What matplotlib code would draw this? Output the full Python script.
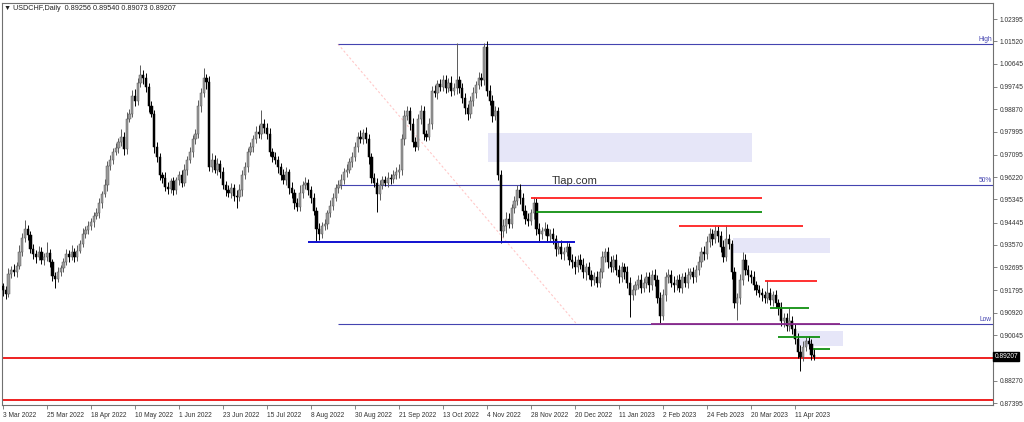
import matplotlib
matplotlib.use("Agg")
import matplotlib.pyplot as plt
from matplotlib.patches import Rectangle

plt.rcParams["font.family"] = ["Liberation Sans", "DejaVu Sans"]

# ------------------------------------------------------------
# data (USDCHF daily, 3 Mar 2022 - 21 Apr 2023)
# ------------------------------------------------------------
first_open = 0.9195
closes = [
    0.9180, 0.9165, 0.9245, 0.9260, 0.9250, 0.9275, 0.9330, 0.9385, 0.9420, 0.9395, 0.9340, 0.9320, 0.9310, 0.9330, 0.9300, 0.9310,
    0.9325, 0.9290, 0.9235, 0.9225, 0.9250, 0.9265, 0.9290, 0.9320, 0.9310, 0.9330, 0.9310, 0.9335, 0.9360, 0.9400, 0.9415, 0.9430,
    0.9445, 0.9470, 0.9480, 0.9520, 0.9555, 0.9590, 0.9665, 0.9690, 0.9720, 0.9735, 0.9760, 0.9780, 0.9730, 0.9850, 0.9870, 0.9940,
    0.9920, 0.9990, 1.0020, 1.0010, 0.9975, 0.9900, 0.9870, 0.9740, 0.9700, 0.9630, 0.9620, 0.9585, 0.9575, 0.9605, 0.9570, 0.9610,
    0.9630, 0.9600, 0.9650, 0.9690, 0.9720, 0.9770, 0.9790, 0.9900, 0.9950, 1.0010, 0.9995, 0.9660, 0.9690, 0.9650, 0.9675, 0.9640,
    0.9590, 0.9570, 0.9560, 0.9580, 0.9550, 0.9545, 0.9570, 0.9630, 0.9660, 0.9720, 0.9740, 0.9770, 0.9800, 0.9790, 0.9830, 0.9815,
    0.9790, 0.9720, 0.9700, 0.9690, 0.9660, 0.9630, 0.9610, 0.9640, 0.9580, 0.9560, 0.9520, 0.9505, 0.9560, 0.9590, 0.9600, 0.9570,
    0.9540, 0.9490, 0.9420, 0.9400, 0.9430, 0.9440, 0.9480, 0.9510, 0.9540, 0.9580, 0.9590, 0.9610, 0.9640, 0.9650, 0.9680, 0.9700,
    0.9740, 0.9780, 0.9770, 0.9795, 0.9770, 0.9700, 0.9620, 0.9600, 0.9555, 0.9590, 0.9610, 0.9600, 0.9620, 0.9615, 0.9630, 0.9640,
    0.9650, 0.9770, 0.9860, 0.9880, 0.9830, 0.9760, 0.9740, 0.9850, 0.9880, 0.9790, 0.9780, 0.9830, 0.9960, 0.9950, 0.9985, 0.9975,
    1.0000, 0.9970, 0.9990, 0.9960, 0.9970, 1.0000, 0.9970, 0.9930, 0.9890, 0.9870, 0.9920, 0.9950, 0.9980, 1.0010, 1.0000, 1.0130,
    0.9960, 0.9920, 0.9860, 0.9880, 0.9630, 0.9410, 0.9430, 0.9460, 0.9440, 0.9500, 0.9530, 0.9570, 0.9540, 0.9490, 0.9460, 0.9450,
    0.9480, 0.9520, 0.9420, 0.9400, 0.9410, 0.9420, 0.9390, 0.9400, 0.9380, 0.9340, 0.9350, 0.9320, 0.9330, 0.9350, 0.9300, 0.9290,
    0.9270, 0.9300, 0.9280, 0.9250, 0.9270, 0.9240, 0.9220, 0.9230, 0.9210, 0.9250, 0.9310, 0.9330, 0.9290, 0.9270, 0.9300, 0.9260,
    0.9230, 0.9270, 0.9250, 0.9210, 0.9160, 0.9180, 0.9200, 0.9220, 0.9190, 0.9210, 0.9230, 0.9200, 0.9240, 0.9220, 0.9150, 0.9080,
    0.9160, 0.9230, 0.9240, 0.9210, 0.9200, 0.9220, 0.9190, 0.9230, 0.9210, 0.9240, 0.9250, 0.9230, 0.9260, 0.9290, 0.9330, 0.9320,
    0.9370, 0.9400, 0.9380, 0.9410, 0.9390, 0.9350, 0.9310, 0.9380, 0.9360, 0.9250, 0.9130, 0.9150, 0.9220, 0.9300, 0.9260, 0.9240,
    0.9230, 0.9200, 0.9180, 0.9170, 0.9160, 0.9150, 0.9170, 0.9140, 0.9160, 0.9130, 0.9110, 0.9060, 0.9070, 0.9040, 0.9060, 0.9030,
    0.8990, 0.8940, 0.8920, 0.8960, 0.8980, 0.8970, 0.89256, 0.89207,
]
# wick length above / below the body, in pips
wick_up = [
    12, 18, 20, 15, 22, 14, 25, 20, 34, 15, 18, 20, 16, 22, 18, 14,
    45, 15, 12, 18, 20, 14, 16, 22, 18, 25, 15, 20, 18, 22, 14, 20,
    18, 15, 22, 20, 14, 25, 18, 20, 15, 22, 16, 28, 20, 25, 18, 22,
    25, 20, 40, 22, 18, 15, 20, 14, 18, 16, 12, 20, 18, 14, 16, 12,
    14, 18, 22, 16, 20, 15, 18, 22, 20, 38, 15, 20, 25, 18, 22, 14,
    20, 15, 22, 18, 16, 20, 25, 18, 22, 15, 20, 18, 22, 25, 54, 20,
    18, 22, 15, 20, 16, 18, 25, 20, 14, 22, 16, 20, 30, 18, 22, 16,
    16, 20, 14, 22, 18, 20, 15, 22, 18, 16, 20, 25, 18, 22, 16, 20,
    20, 18, 25, 16, 22, 20, 15, 18, 20, 22, 16, 18, 20, 15, 18, 22,
    22, 20, 25, 18, 16, 22, 20, 18, 25, 20, 16, 22, 18, 20, 16, 22,
    20, 22, 18, 25, 20, 146, 18, 20, 22, 16, 20, 25, 18, 22, 20, 16,
    25, 20, 22, 18, 15, 20, 30, 25, 22, 18, 20, 20, 25, 18, 22, 20,
    18, 25, 20, 22, 18, 25, 20, 18, 22, 16, 20, 25, 18, 22, 16, 20,
    22, 18, 20, 25, 16, 22, 18, 20, 25, 18, 22, 16, 20, 25, 18, 22,
    20, 22, 18, 25, 20, 22, 18, 20, 25, 18, 22, 20, 18, 22, 20, 25,
    25, 20, 22, 18, 25, 20, 22, 18, 20, 25, 18, 22, 20, 25, 18, 22,
    20, 25, 18, 25, 22, 20, 25, 55, 20, 18, 22, 20, 25, 30, 22, 18,
    20, 25, 18, 22, 20, 18, 50, 20, 18, 22, 16, 25, 20, 22, 50, 18,
    18, 22, 25, 20, 17, 22, 20, 28.4,
]
wick_dn = [
    22, 20, 10, 18, 15, 20, 12, 18, 15, 20, 14, 18, 22, 12, 16, 20,
    15, 20, 18, 35, 12, 16, 14, 10, 18, 12, 20, 14, 10, 12, 16, 14,
    14, 18, 12, 16, 20, 10, 22, 14, 18, 12, 20, 15, 22, 16, 14, 12,
    20, 18, 15, 25, 20, 22, 14, 25, 18, 20, 22, 16, 20, 15, 18, 14,
    18, 16, 14, 20, 12, 18, 20, 15, 22, 14, 30, 16, 20, 14, 18, 22,
    16, 20, 14, 18, 22, 45, 15, 20, 14, 18, 12, 20, 16, 14, 18, 22,
    20, 14, 18, 16, 22, 18, 14, 20, 25, 18, 22, 15, 14, 20, 16, 18,
    20, 18, 50, 22, 16, 14, 20, 15, 18, 12, 20, 14, 16, 18, 14, 20,
    15, 20, 14, 18, 16, 25, 20, 18, 70, 22, 16, 14, 18, 20, 16, 14,
    20, 18, 22, 16, 25, 20, 18, 14, 20, 25, 18, 14, 20, 16, 22, 18,
    18, 20, 16, 22, 18, 25, 20, 18, 22, 25, 16, 20, 18, 14, 22, 20,
    20, 18, 22, 16, 20, 45, 22, 25, 18, 16, 20, 18, 22, 16, 20, 18,
    16, 20, 25, 30, 18, 16, 22, 20, 18, 25, 20, 18, 22, 16, 20, 25,
    25, 20, 18, 22, 30, 16, 25, 20, 18, 16, 22, 20, 25, 18, 20, 22,
    22, 18, 25, 20, 84, 18, 20, 16, 22, 18, 20, 25, 18, 22, 20, 28,
    18, 22, 20, 16, 25, 20, 18, 22, 16, 20, 18, 22, 16, 20, 18, 22,
    18, 20, 22, 16, 20, 22, 18, 16, 20, 25, 20, 66, 22, 18, 20, 25,
    22, 18, 20, 16, 22, 18, 20, 16, 20, 18, 25, 20, 22, 18, 20, 22,
    20, 25, 54, 18, 16, 20, 18, 13.4,
]

date_labels = ["3 Mar 2022", "25 Mar 2022", "18 Apr 2022", "10 May 2022", "1 Jun 2022",
               "23 Jun 2022", "15 Jul 2022", "8 Aug 2022", "30 Aug 2022", "21 Sep 2022",
               "13 Oct 2022", "4 Nov 2022", "28 Nov 2022", "20 Dec 2022", "11 Jan 2023",
               "2 Feb 2023", "24 Feb 2023", "20 Mar 2023", "11 Apr 2023"]
date_step = 16

price_ticks = [1.02395, 1.01520, 1.00645, 0.99745, 0.98870, 0.97995, 0.97095, 0.96220,
               0.95345, 0.94445, 0.93570, 0.92695, 0.91795, 0.90920, 0.90045, 0.88270, 0.87395]
last_price = 0.89207

# fib levels (High / 50% / Low), start bar
fib_levels = [1.01418, 0.95915, 0.90480]
fib_names = ["High", "50%", "Low"]
fib_start = 121.8

# drawn lines: (price, start bar, end bar, colour, width)
seg_lines = [
    (0.93690, 110.9, 208.0, "#1010d0", 1.4),
    (0.95400, 192.0, 276.0, "#ff2020", 1.3),
    (0.94850, 194.0, 276.0, "#109010", 1.3),
    (0.94320, 245.8, 291.0, "#ff2020", 1.3),
    (0.92170, 277.0, 296.0, "#ff2020", 1.3),
    (0.91090, 279.0, 293.0, "#109010", 1.3),
    (0.90480, 235.6, 304.4, "#8a2a8a", 1.3),
    (0.89990, 281.8, 297.0, "#109010", 1.3),
    (0.89500, 294.5, 300.7, "#109010", 1.3),
]
full_lines = [0.89150, 0.87510]

# zones: (start bar, end bar, low price, high price)
zones = [
    (176.4, 272.4, 0.96809, 0.97942),
    (265.5, 300.7, 0.93254, 0.93840),
    (288.7, 305.5, 0.89621, 0.90207),
]

# ------------------------------------------------------------
fig = plt.figure(figsize=(10.24, 4.22), dpi=100)
ax = fig.add_axes([2 / 1024, 17 / 422, 991 / 1024, 402 / 422])
xmin, xmax = -0.36, 360.0
ymin, ymax = 0.87317, 1.03020
ax.set_xlim(xmin, xmax)
ax.set_ylim(ymin, ymax)

for z in zones:
    ax.add_patch(Rectangle((z[0], z[2]), z[1] - z[0], z[3] - z[2],
                           facecolor="#e6e6f8", edgecolor="none", zorder=1))

# fib lines + dotted diagonal
for lvl, name in zip(fib_levels, fib_names):
    ax.hlines(lvl, fib_start, xmax, color="#4444b0", lw=0.8, zorder=2)
    ax.text(xmax - 0.4, lvl + 0.0004, name, color="#4444b0", fontsize=4.8,
            ha="right", va="bottom", zorder=5)
ax.plot([fib_start, 208.6], [fib_levels[0], fib_levels[2]], color="#ffc8c8",
        lw=0.8, ls=(0, (2, 2)), zorder=1.5)

for lvl in full_lines:
    ax.axhline(lvl, color="#ee2020", lw=1.4, zorder=2)

# candles
opens = [first_open] + closes[:-1]
for i in range(len(closes)):
    o = opens[i]
    c = closes[i]
    top = max(o, c)
    bot = min(o, c)
    hi = top + wick_up[i] / 10000
    lo = bot - wick_dn[i] / 10000
    if c >= o:
        col = "#9a9a9a"
        edge = "#5a5a5a"
    else:
        col = "#000000"
        edge = "#000000"
    ax.vlines(i, lo, hi, color=edge, lw=0.7, zorder=3)
    ax.bar(i, max(top - bot, 0.0003), bottom=bot, width=0.78, color=col,
           edgecolor=edge, linewidth=0.35, zorder=4)

for s in seg_lines:
    ax.hlines(s[0], s[1], s[2], color=s[3], lw=s[4], zorder=4.5)

ax.text(199.5, 0.9607, "Tlap.com", fontsize=8, color="#333333", ha="left", va="center", zorder=6)

# axes styling
for sp in ax.spines.values():
    sp.set_color("#707070")
    sp.set_linewidth(0.8)
ax.yaxis.tick_right()
ax.set_yticks(price_ticks)
ax.set_yticklabels(["%.5f" % p for p in price_ticks])
ax.tick_params(axis="y", length=3, width=0.6, color="#707070", labelsize=4.8,
               pad=2, labelcolor="#333333")
ax.set_xticks([k * date_step for k in range(len(date_labels))])
ax.set_xticklabels(date_labels)
ax.tick_params(axis="x", length=3, width=0.6, color="#707070", labelsize=4.8,
               pad=2, labelcolor="#333333")
for lab in ax.get_xticklabels():
    lab.set_horizontalalignment("left")

ax.text(1.0015, (last_price - ymin) / (ymax - ymin), "%.5f" % last_price,
        transform=ax.transAxes, fontsize=4.8, color="white", ha="left", va="center",
        bbox=dict(boxstyle="square,pad=0.2", facecolor="black", edgecolor="black"),
        zorder=10, clip_on=False)

fig.text(4 / 1024, 1 - 8 / 422, "\u25bc USDCHF,Daily  0.89256 0.89540 0.89073 0.89207",
         fontsize=5.2, color="#222222", ha="left", va="center")

fig.savefig("out.png", dpi=100)
